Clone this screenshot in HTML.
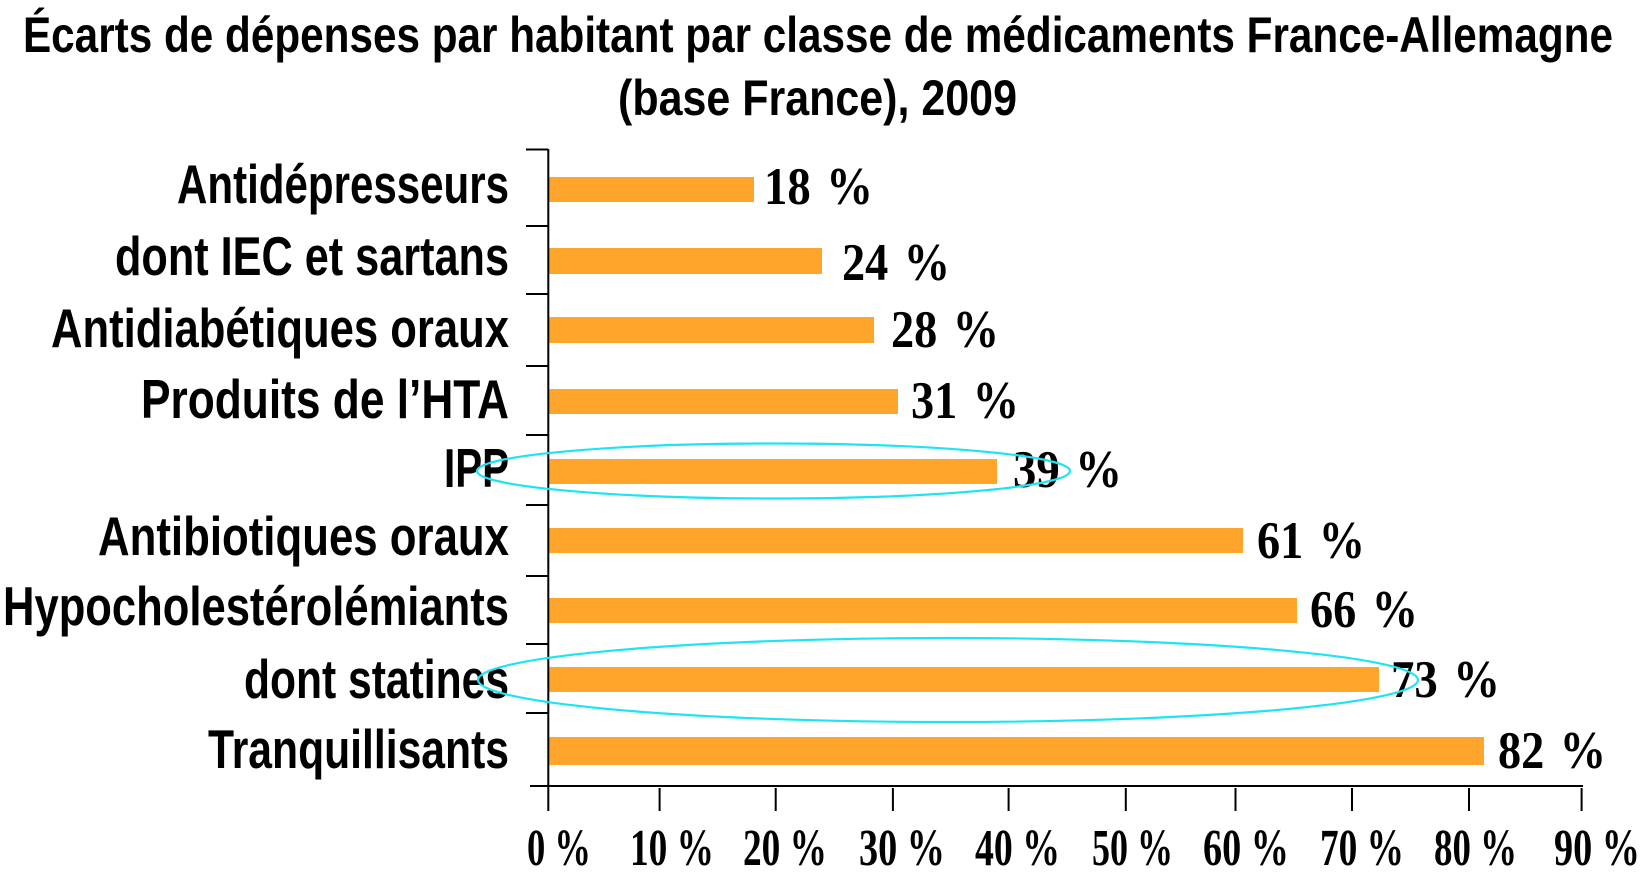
<!DOCTYPE html>
<html>
<head>
<meta charset="utf-8">
<style>
html,body{margin:0;padding:0;background:#fff;}
svg{display:block;}
.t{font-family:"Liberation Sans",sans-serif;font-weight:bold;fill:#000;}
.v{font-family:"Liberation Serif",serif;font-weight:bold;fill:#000;}
</style>
</head>
<body>
<svg width="1643" height="881" viewBox="0 0 1643 881" xmlns="http://www.w3.org/2000/svg">
<rect width="1643" height="881" fill="#fff"/>
<!-- Title -->
<text class="t" x="23" y="52" font-size="50" textLength="1590" lengthAdjust="spacingAndGlyphs">Écarts de dépenses par habitant par classe de médicaments France-Allemagne</text>
<text class="t" x="618" y="115" font-size="50" textLength="399" lengthAdjust="spacingAndGlyphs">(base France), 2009</text>

<!-- Bars -->
<g fill="#FFA52B">
<rect x="549" y="177" width="205" height="25"/>
<rect x="549" y="248" width="273" height="26"/>
<rect x="549" y="317" width="325" height="26"/>
<rect x="549" y="389" width="349" height="25"/>
<rect x="549" y="459" width="448" height="25"/>
<rect x="549" y="528" width="694" height="25"/>
<rect x="549" y="598" width="748" height="25"/>
<rect x="549" y="667" width="830" height="25"/>
<rect x="549" y="737" width="935" height="28"/>
</g>

<!-- Axes -->
<g stroke="#000" stroke-width="2" fill="none">
<line x1="548.3" y1="149" x2="548.3" y2="811"/>
<line x1="530" y1="786" x2="1583" y2="786"/>
<line x1="526" y1="149.5" x2="548" y2="149.5"/>
<line x1="526" y1="226" x2="548" y2="226"/>
<line x1="526" y1="294" x2="548" y2="294"/>
<line x1="526" y1="366" x2="548" y2="366"/>
<line x1="526" y1="435" x2="548" y2="435"/>
<line x1="526" y1="505" x2="548" y2="505"/>
<line x1="526" y1="576" x2="548" y2="576"/>
<line x1="526" y1="644" x2="548" y2="644"/>
<line x1="526" y1="713" x2="548" y2="713"/>
<line x1="659.6" y1="788" x2="659.6" y2="811"/>
<line x1="775.7" y1="788" x2="775.7" y2="811"/>
<line x1="892.9" y1="788" x2="892.9" y2="811"/>
<line x1="1008.6" y1="788" x2="1008.6" y2="811"/>
<line x1="1125.8" y1="788" x2="1125.8" y2="811"/>
<line x1="1235.5" y1="788" x2="1235.5" y2="811"/>
<line x1="1352" y1="788" x2="1352" y2="811"/>
<line x1="1469" y1="788" x2="1469" y2="811"/>
<line x1="1581.6" y1="788" x2="1581.6" y2="811"/>
</g>

<!-- Category labels -->
<text class="t" x="177" y="203" font-size="55" textLength="332" lengthAdjust="spacingAndGlyphs">Antidépresseurs</text>
<text class="t" x="115" y="275" font-size="55" textLength="394" lengthAdjust="spacingAndGlyphs">dont IEC et sartans</text>
<text class="t" x="51" y="347" font-size="55" textLength="458" lengthAdjust="spacingAndGlyphs">Antidiabétiques oraux</text>
<text class="t" x="141" y="418" font-size="55" textLength="368" lengthAdjust="spacingAndGlyphs">Produits de l’HTA</text>
<text class="t" x="444" y="487" font-size="55" textLength="65" lengthAdjust="spacingAndGlyphs">IPP</text>
<text class="t" x="98" y="555" font-size="55" textLength="411" lengthAdjust="spacingAndGlyphs">Antibiotiques oraux</text>
<text class="t" x="3" y="625" font-size="55" textLength="506" lengthAdjust="spacingAndGlyphs">Hypocholestérolémiants</text>
<text class="t" x="244" y="698" font-size="55" textLength="265" lengthAdjust="spacingAndGlyphs">dont statines</text>
<text class="t" x="208" y="768" font-size="55" textLength="301" lengthAdjust="spacingAndGlyphs">Tranquillisants</text>

<!-- Value labels -->
<text class="v" x="764" y="204" font-size="53" textLength="109" lengthAdjust="spacingAndGlyphs">18&#8196;%</text>
<text class="v" x="842" y="280" font-size="53" textLength="108" lengthAdjust="spacingAndGlyphs">24&#8196;%</text>
<text class="v" x="891" y="347" font-size="53" textLength="108" lengthAdjust="spacingAndGlyphs">28&#8196;%</text>
<text class="v" x="911" y="418" font-size="53" textLength="108" lengthAdjust="spacingAndGlyphs">31&#8196;%</text>
<text class="v" x="1013" y="487" font-size="53" textLength="109" lengthAdjust="spacingAndGlyphs">39&#8196;%</text>
<text class="v" x="1257" y="558" font-size="53" textLength="108" lengthAdjust="spacingAndGlyphs">61&#8196;%</text>
<text class="v" x="1310" y="627" font-size="53" textLength="108" lengthAdjust="spacingAndGlyphs">66&#8196;%</text>
<text class="v" x="1391" y="697" font-size="53" textLength="109" lengthAdjust="spacingAndGlyphs">73&#8196;%</text>
<text class="v" x="1498" y="768" font-size="53" textLength="108" lengthAdjust="spacingAndGlyphs">82&#8196;%</text>

<!-- X tick labels -->
<text class="v" x="527" y="865" font-size="52" textLength="64" lengthAdjust="spacingAndGlyphs">0 %</text>
<text class="v" x="630" y="865" font-size="52" textLength="84" lengthAdjust="spacingAndGlyphs">10 %</text>
<text class="v" x="743" y="865" font-size="52" textLength="84" lengthAdjust="spacingAndGlyphs">20 %</text>
<text class="v" x="859" y="865" font-size="52" textLength="86" lengthAdjust="spacingAndGlyphs">30 %</text>
<text class="v" x="975" y="865" font-size="52" textLength="85" lengthAdjust="spacingAndGlyphs">40 %</text>
<text class="v" x="1092" y="865" font-size="52" textLength="81" lengthAdjust="spacingAndGlyphs">50 %</text>
<text class="v" x="1203" y="865" font-size="52" textLength="86" lengthAdjust="spacingAndGlyphs">60 %</text>
<text class="v" x="1320" y="865" font-size="52" textLength="84" lengthAdjust="spacingAndGlyphs">70 %</text>
<text class="v" x="1434" y="865" font-size="52" textLength="83" lengthAdjust="spacingAndGlyphs">80 %</text>
<text class="v" x="1554" y="865" font-size="52" textLength="86" lengthAdjust="spacingAndGlyphs">90 %</text>

<!-- Highlight ellipses -->
<g fill="none" stroke="#1DE4F0" stroke-width="2.2">
<ellipse cx="773.5" cy="471" rx="296.5" ry="27.5"/>
<ellipse cx="948" cy="680" rx="470" ry="42"/>
</g>
</svg>
</body>
</html>
